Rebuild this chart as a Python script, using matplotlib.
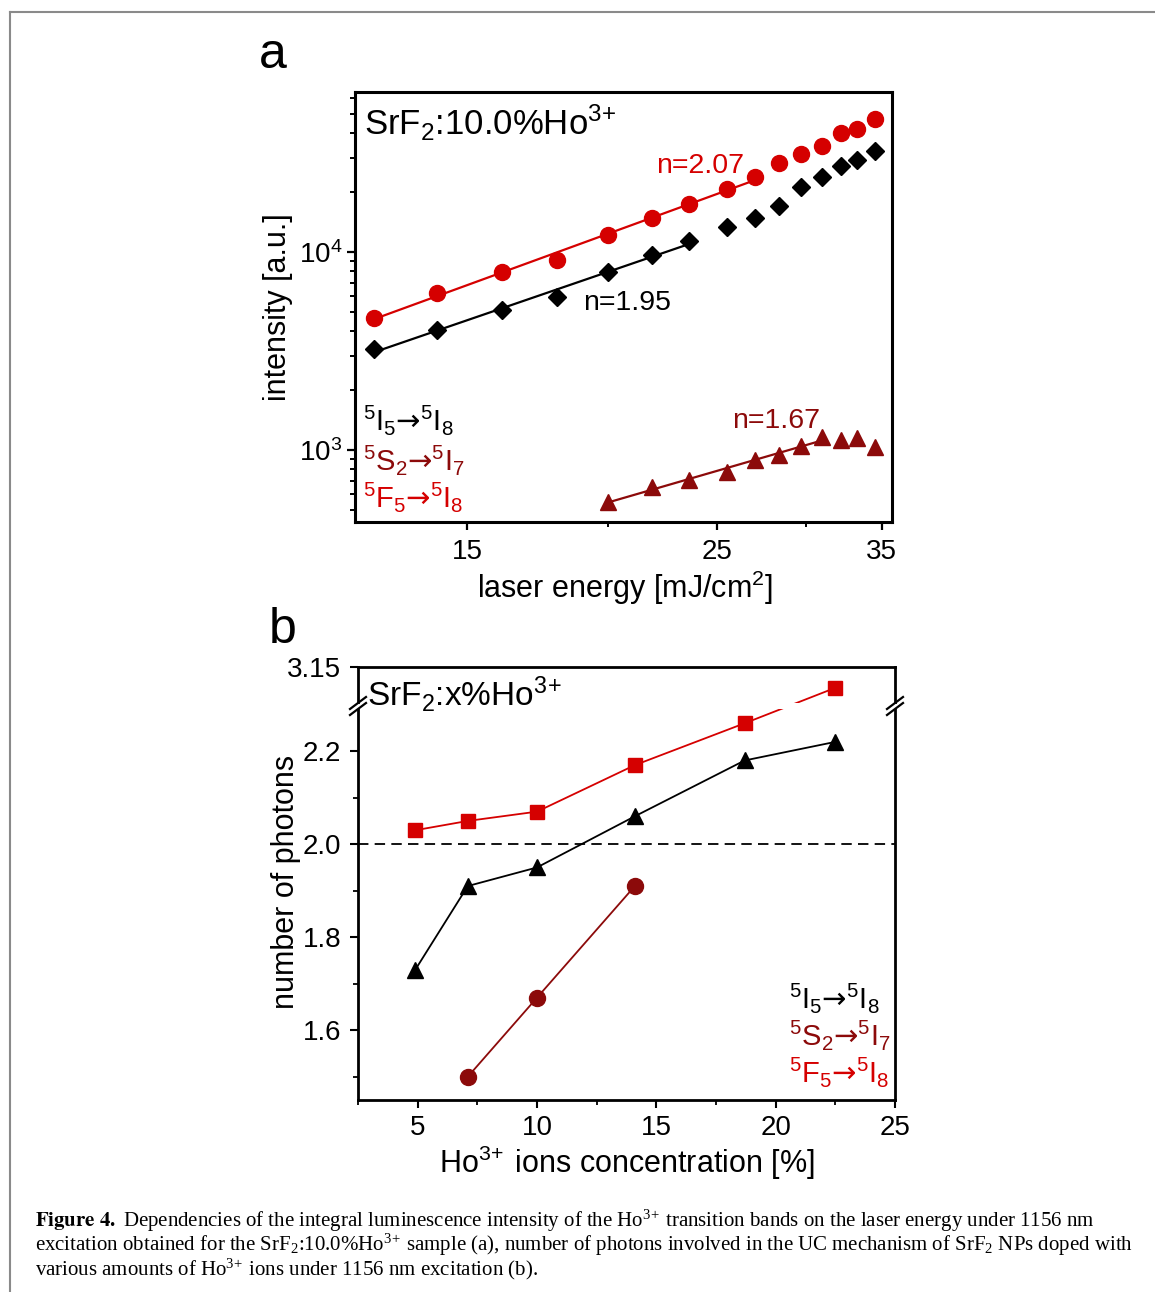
import numpy as np
import matplotlib
matplotlib.use('Agg')
import matplotlib.pyplot as plt
from matplotlib.ticker import FixedLocator, NullFormatter, LogLocator, FuncFormatter
from matplotlib.lines import Line2D
from matplotlib.patches import Rectangle

plt.rcParams['font.family'] = ['Liberation Sans', 'DejaVu Sans']
plt.rcParams['mathtext.fontset'] = 'custom'
plt.rcParams['mathtext.rm'] = 'Liberation Sans'
plt.rcParams['mathtext.it'] = 'Liberation Sans:italic'
plt.rcParams['mathtext.bf'] = 'Liberation Sans:bold'
plt.rcParams['mathtext.sf'] = 'DejaVu Sans'
plt.rcParams['mathtext.default'] = 'regular'
plt.rcParams['lines.scale_dashes'] = False

# ---------------- data: panel a ----------------
energy = [12.4, 14.1, 16.1, 18.0, 20.0, 21.9, 23.6, 25.5, 27.0, 28.4, 29.7, 31.0, 32.2, 33.3, 34.5]
int_5F5 = [4660, 6210, 7960, 9110, 12190, 14800, 17410, 20810, 23840, 28050, 31140, 34430, 39770, 41800, 46960]
int_5I5 = [3240, 4040, 5100, 5950, 7960, 9660, 11360, 13420, 14800, 17080, 21370, 23840, 27190, 29150, 32480]
energy_5S2 = [20.0, 21.9, 23.6, 25.5, 27.0, 28.4, 29.7, 31.0, 32.2, 33.3, 34.5]
int_5S2 = [548, 652, 706, 772, 890, 943, 1048, 1167, 1123, 1153, 1039]
fit_pts_5F5 = 9
fit_pts_5I5 = 7
fit_pts_5S2 = 8
slope_labels = ['n=2.07', 'n=1.95', 'n=1.67']
xticks_a = [15, 25, 35]
xminor_a = [20, 30]

# ---------------- data: panel b ----------------
conc = [4.9, 7.1, 10.0, 14.1, 18.7, 22.5]
n_5F5 = [2.03, 2.05, 2.07, 2.17, 2.26, 3.07]
n_5I5 = [1.73, 1.91, 1.95, 2.06, 2.18, 2.22]
conc_5S2 = [7.1, 10.0, 14.1]
n_5S2 = [1.50, 1.67, 1.91]
yticks_b = [1.6, 1.8, 2.0, 2.2, 3.15]
yminor_b = [1.5, 1.7, 1.9, 2.1]
xticks_b = [5, 10, 15, 20, 25]
xminor_b = [2.5, 7.5, 12.5, 17.5, 22.5]

RED = '#D50000'
DRED = '#8C0A0A'
ARROW = r'$\mathsf{→}$'
LEG = ['$^5$I$_5$' + ARROW + '$^5$I$_8$',
       '$^5$S$_2$' + ARROW + '$^5$I$_7$',
       '$^5$F$_5$' + ARROW + '$^5$I$_8$']
SUP = r'$^{3\!+}$'
SUPS = r'$^{3\!+}\;$'

W, H = 1155, 1292
fig = plt.figure(figsize=(W / 100, H / 100), dpi=100)

# page frame
fig.add_artist(Line2D([10 / W, 10 / W], [0, 1 - 12 / H], color='#8a8a8a', lw=1.5))
fig.add_artist(Line2D([10 / W, 1], [1 - 12 / H, 1 - 12 / H], color='#8a8a8a', lw=1.5))


def frac(px_l, px_t, px_r, px_b):
    return [px_l / W, 1 - px_b / H, (px_r - px_l) / W, (px_b - px_t) / H]


def fitline(ax, x, y, npts, color):
    lx = np.log10(x[:npts])
    ly = np.log10(y[:npts])
    p = np.polyfit(lx, ly, 1)
    xx = np.array([x[0], x[npts - 1]])
    ax.plot(xx, 10 ** np.polyval(p, np.log10(xx)), color=color, lw=1.6, zorder=2)


# ================= panel a =================
axa = fig.add_axes(frac(355, 92, 892, 522))
axa.set_xscale('log')
axa.set_yscale('log')
axa.set_xlim(11.92, 35.75)
axa.set_ylim(433, 64270)

fitline(axa, energy, int_5F5, fit_pts_5F5, RED)
fitline(axa, energy, int_5I5, fit_pts_5I5, 'black')
fitline(axa, energy_5S2, int_5S2, fit_pts_5S2, DRED)
axa.plot(energy, int_5F5, 'o', color=RED, ms=11.5, mec=RED, zorder=3)
axa.plot(energy, int_5I5, 'D', color='black', ms=9.5, zorder=3)
axa.plot(energy_5S2, int_5S2, '^', color=DRED, ms=11, zorder=3)

axa.xaxis.set_major_locator(FixedLocator(xticks_a))
axa.xaxis.set_major_formatter(FuncFormatter(lambda v, p: f'{v:g}'))
axa.xaxis.set_minor_locator(FixedLocator(xminor_a))
axa.xaxis.set_minor_formatter(NullFormatter())
axa.yaxis.set_minor_locator(LogLocator(base=10, subs=np.arange(2, 10)))
axa.yaxis.set_minor_formatter(NullFormatter())
for s in axa.spines.values():
    s.set_linewidth(2.2)
axa.tick_params(which='both', direction='out', top=False, right=False, labelsize=20)
axa.tick_params(which='major', length=6, width=1.6)
axa.tick_params(which='minor', length=3.5, width=1.4)
axa.tick_params(axis='x', pad=6)
axa.tick_params(axis='y', pad=3)
axa.set_xlabel('laser energy [mJ/cm$^2$]', fontsize=22)
axa.set_ylabel('intensity [a.u.]', fontsize=22)
axa.xaxis.set_label_coords(0.503, -0.108)
axa.yaxis.set_label_coords(-0.116, 0.5)

axa.text(0.016, 0.9, 'SrF$_2$:10.0%Ho' + SUP, transform=axa.transAxes, fontsize=25, va='baseline')
axa.text(0.561, 0.812, slope_labels[0], transform=axa.transAxes, fontsize=20.5, color=RED, va='baseline')
axa.text(0.4246, 0.493, slope_labels[1], transform=axa.transAxes, fontsize=20.5, color='black', va='baseline')
axa.text(0.7015, 0.218, slope_labels[2], transform=axa.transAxes, fontsize=20.5, color=DRED, va='baseline')
axa.text(0.015, 0.214, LEG[0], transform=axa.transAxes, fontsize=21, color='black', va='baseline')
axa.text(0.015, 0.121, LEG[1], transform=axa.transAxes, fontsize=21, color=DRED, va='baseline')
axa.text(0.015, 0.035, LEG[2], transform=axa.transAxes, fontsize=21, color=RED, va='baseline')
fig.text(273 / W, 1 - 55 / H, 'a', fontsize=36, ha='center', va='center')

# ================= panel b =================
yb, yu, ytop = 2.297, 3.0, 3.15
k = (39 / 465) / (ytop - yu)
eps = 1e-4
src = [-100.0, yb, yu, 100.0]
dst = [-100.0, yb, yb + eps, yb + eps + (100.0 - yu) * k]


def fwd(y):
    return np.interp(y, src, dst)


def inv(t):
    return np.interp(t, dst, src)


axb = fig.add_axes(frac(358, 667, 895, 1100))
axb.set_yscale('function', functions=(fwd, inv))
axb.set_xlim(2.5, 25)
axb.set_ylim(1.45, ytop)

axb.axhline(2.0, color='black', lw=1.3, dashes=(7.5, 4.5), zorder=1.5)
axb.plot(conc, n_5F5, '-s', color=RED, ms=10.5, lw=1.3, zorder=2)
axb.plot(conc, n_5I5, '-^', color='black', ms=11.5, lw=1.3, zorder=2)
axb.plot(conc_5S2, n_5S2, '-o', color=DRED, ms=11.5, lw=1.3, zorder=2)

axb.xaxis.set_major_locator(FixedLocator(xticks_b))
axb.xaxis.set_minor_locator(FixedLocator(xminor_b))
axb.xaxis.set_major_formatter(FuncFormatter(lambda v, p: f'{v:g}'))
axb.yaxis.set_major_locator(FixedLocator(yticks_b))
axb.yaxis.set_minor_locator(FixedLocator(yminor_b))
axb.yaxis.set_major_formatter(FuncFormatter(lambda v, p: f'{v:.2f}' if v > 3 else f'{v:.1f}'))
axb.yaxis.set_minor_formatter(NullFormatter())
for s in axb.spines.values():
    s.set_linewidth(2.0)
axb.tick_params(which='both', direction='out', top=False, right=False, labelsize=20)
axb.tick_params(which='major', length=6, width=1.5)
axb.tick_params(which='minor', length=3.5, width=1.3)
axb.tick_params(axis='x', pad=5)
axb.tick_params(axis='y', pad=6)
axb.set_xlabel('Ho' + SUPS + 'ions concentration [%]', fontsize=22)
axb.set_ylabel('number of photons', fontsize=22)
axb.xaxis.set_label_coords(0.5, -0.1)
axb.yaxis.set_label_coords(-0.107, 0.503)

# axis break
bf = (1100 - 706) / 433.0
px_x = 1 / 537.0
px_y = 1 / 433.0
axb.add_patch(Rectangle((0.004, bf - 3 * px_y), 0.992, 6 * px_y, transform=axb.transAxes,
                        facecolor='white', edgecolor='none', zorder=2.3))
for xc in (0.0, 1.0):
    axb.add_patch(Rectangle((xc - 5 * px_x, bf - 2.5 * px_y), 10 * px_x, 5 * px_y, transform=axb.transAxes,
                            facecolor='white', edgecolor='none', zorder=3.5, clip_on=False))
    for d in (-3, 3):
        axb.add_artist(Line2D([xc - 8 * px_x, xc + 8 * px_x],
                              [bf + (d - 6) * px_y, bf + (d + 6) * px_y],
                              transform=axb.transAxes, color='black', lw=1.6, clip_on=False, zorder=4))

axb.text(0.016, 0.91, 'SrF$_2$:x%Ho' + SUP, transform=axb.transAxes, fontsize=24, va='baseline', zorder=5)
axb.text(0.8026, 0.2125, LEG[0], transform=axb.transAxes, fontsize=21, color='black', va='baseline')
axb.text(0.8026, 0.127, LEG[1], transform=axb.transAxes, fontsize=21, color=DRED, va='baseline')
axb.text(0.8026, 0.0416, LEG[2], transform=axb.transAxes, fontsize=21, color=RED, va='baseline')
fig.text(283 / W, 1 - 630 / H, 'b', fontsize=36, ha='center', va='center')

# ================= caption =================
CSUP = r'$^{3\!+}\;$'
cap = [
    r'$\mathbf{Figure\ 4.}$ Dependencies of the integral luminescence intensity of the Ho' + CSUP
    + 'transition bands on the laser energy under 1156 nm',
    'excitation obtained for the SrF$_2$:10.0%Ho' + CSUP
    + 'sample (a), number of photons involved in the UC mechanism of SrF$_2$ NPs doped with',
    'various amounts of Ho' + CSUP + 'ions under 1156 nm excitation (b).',
]
base = [1227, 1251, 1275]
for line, b in zip(cap, base):
    fig.text(35 / W, 1 - b / H, line, fontsize=15.0, family='Liberation Serif', math_fontfamily='stix',
             va='baseline', ha='left')

fig.savefig('out.png', dpi=100)
